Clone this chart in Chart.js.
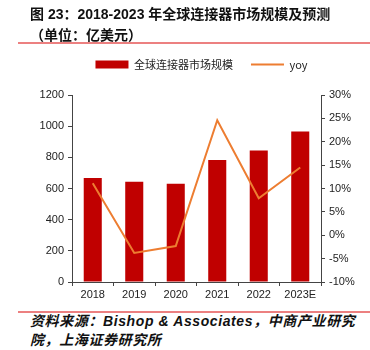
<!DOCTYPE html>
<html>
<head>
<meta charset="utf-8">
<script src="https://cdn.jsdelivr.net/npm/chart.js@4"></script>
<style>
    body { margin: 0; width: 370px; height: 350px; background: #fff; position: relative; overflow: hidden; }
    .title { position: absolute; left: 30px; top: 4px; font: bold 14px "Liberation Sans", "Noto Sans CJK SC", sans-serif; color: #111; line-height: 21px; z-index: 2; }
    .rule { position: absolute; left: 18px; right: 0; height: 2px; background: #ec8080; }
    .source { position: absolute; left: 30px; top: 312px; font: italic bold 14px "Liberation Sans", "Noto Sans CJK SC", sans-serif; letter-spacing: 0.6px; color: #111; line-height: 19px; }
    #wrap { position: absolute; left: 0; top: 30px; width: 370px; height: 278px; }
</style>
</head>
<body>
<div class="title">图 23：2018-2023 年全球连接器市场规模及预测<br>（单位：亿美元）</div>
<div class="rule" style="top: 42px"></div>
<div id="wrap"><canvas id="chart"></canvas></div>
<div class="rule" style="top: 311px"></div>
<div class="source">资料来源：Bishop &amp; Associates，中商产业研究<br>院，上海证券研究所</div>

<script>
// Data
const years = ['2018', '2019', '2020', '2021', '2022', '2023E'];
const marketSize = [667, 643, 630, 783, 844, 965];   // 亿美元
const yoy = [11.1, -3.8, -2.3, 24.6, 7.9, 14.5];     // %

const BAR_RED = '#C00000';
const LINE_ORANGE = '#ED7D31';
const tickFont = { family: '"Liberation Sans", Arial, sans-serif', size: 11 };

const ctx = document.getElementById('chart');
new Chart(ctx, {
    data: {
        labels: years,
        datasets: [
            {
                type: 'line',
                label: 'yoy',
                data: yoy,
                yAxisID: 'y1',
                borderColor: LINE_ORANGE,
                backgroundColor: LINE_ORANGE,
                borderWidth: 2,
                pointRadius: 0,
                tension: 0,
                order: 1
            },
            {
                type: 'bar',
                label: '全球连接器市场规模',
                data: marketSize,
                yAxisID: 'y',
                backgroundColor: BAR_RED,
                categoryPercentage: 1,
                barPercentage: 0.435,
                order: 2
            }
        ]
    },
    options: {
        responsive: true,
        maintainAspectRatio: false,
        animation: false,
        layout: { padding: { left: 33, right: 0, top: 11, bottom: 0 } },
        plugins: {
            tooltip: { enabled: false },
            legend: {
                position: 'top',
                reverse: true,
                labels: {
                    usePointStyle: true,
                    pointStyleWidth: 33,
                    boxHeight: 8,
                    padding: 18,
                    color: '#222',
                    font: { family: '"Noto Sans CJK SC", "Liberation Sans", sans-serif', size: 11 },
                    generateLabels(chart) {
                        return chart.data.datasets.map((ds, i) => ({
                            text: ds.label,
                            fillStyle: ds.backgroundColor,
                            strokeStyle: ds.type === 'line' ? ds.borderColor : ds.backgroundColor,
                            lineWidth: ds.type === 'line' ? 2 : 0,
                            pointStyle: ds.type === 'line' ? 'line' : 'rect',
                            fontColor: '#222',
                            datasetIndex: i
                        }));
                    }
                }
            }
        },
        scales: {
            x: {
                grid: { display: true, drawOnChartArea: false, drawTicks: true, tickLength: 4, color: '#444', offset: true },
                border: { display: true, color: '#444' },
                ticks: { color: '#222', font: tickFont, padding: 2, maxRotation: 0 },
                afterFit(scale) { scale.height = 26; }
            },
            // empty spacer between legend and plot
            xTop: {
                type: 'category',
                position: 'top',
                grid: { display: false },
                border: { display: false },
                ticks: { display: false },
                afterFit(scale) { scale.height = 15; }
            },
            y: {
                position: 'left',
                min: 0,
                max: 1200,
                grid: { display: true, drawOnChartArea: false, drawTicks: true, tickLength: 4, color: '#444' },
                border: { display: true, color: '#444' },
                ticks: { stepSize: 200, color: '#222', font: tickFont, padding: 4, callback: v => String(v) },
                afterFit(scale) { scale.width = 39; }
            },
            y1: {
                position: 'right',
                min: -10,
                max: 30,
                grid: { display: true, drawOnChartArea: false, drawTicks: true, tickLength: 4, color: '#444' },
                border: { display: true, color: '#444' },
                ticks: { stepSize: 5, color: '#222', font: tickFont, padding: 4, callback: v => v + '%' },
                afterFit(scale) { scale.width = 49; }
            }
        }
    }
});
</script>
</body>
</html>
